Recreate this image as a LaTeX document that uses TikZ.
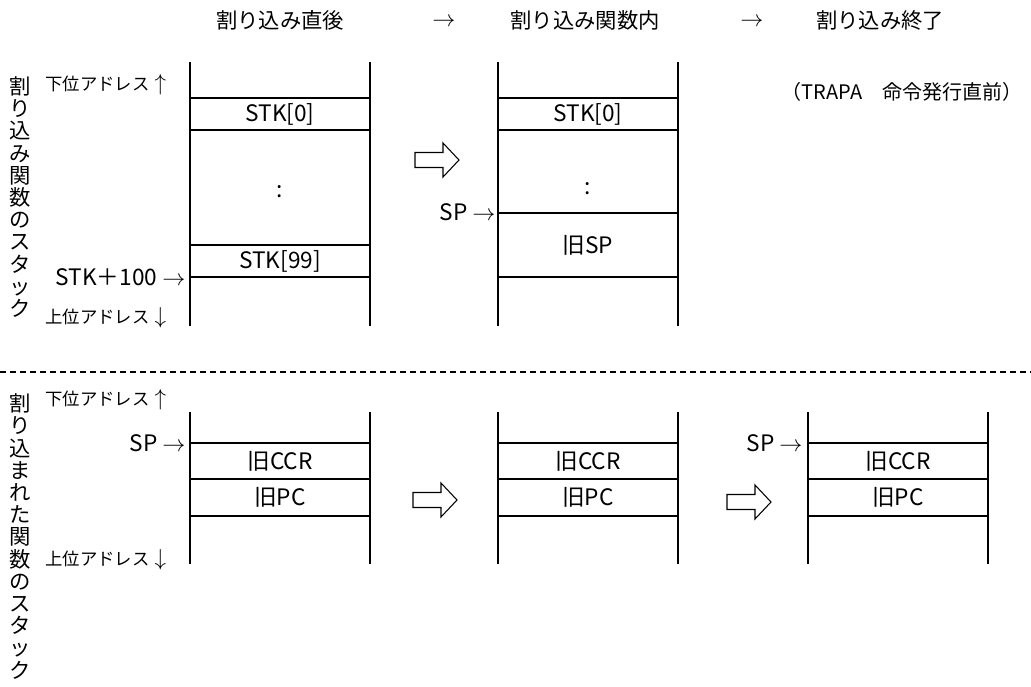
\documentclass[tikz,border=0pt]{standalone}
\usepackage{fontspec}
\setmainfont{Noto Sans CJK JP}
\usetikzlibrary{positioning}

\begin{document}
\begin{tikzpicture}[x=0.75pt, y=-0.75pt, line width=0.8pt,
  hdr/.style={font=\fontsize{16}{18}\selectfont},
  cell/.style={font=\fontsize{17}{19}\selectfont, inner sep=0pt},
  lbl/.style={font=\fontsize{13}{15}\selectfont, inner sep=0pt},
  ptr/.style={font=\fontsize{17}{19}\selectfont, inner sep=0pt},
  vlbl/.style={font=\fontsize{16}{16.65}\selectfont, align=center, inner sep=0pt},
  blockarrow/.pic={\draw (0,-7.5) -- (28,-7.5) -- (28,-17) -- (44,0)
    -- (28,17) -- (28,7.5) -- (0,7.5) -- cycle;}]
  \useasboundingbox (0,0) rectangle (1031,686);
  \newcommand{\bigup}{\hspace{0.3em}{\fontsize{17}{19}\selectfont$\uparrow$}}
  \newcommand{\bigdown}{\hspace{0.3em}{\fontsize{17}{19}\selectfont$\downarrow$}}

  %% Headings
  \node[hdr] (h1) at (280,20) {割り込み直後};
  \node[hdr] (ar1) at (444,22) {$\rightarrow$};
  \node[hdr] (h2) at (585,20) {割り込み関数内};
  \node[hdr] (ar2) at (752,22) {$\rightarrow$};
  \node[hdr] (h3) at (880,20) {割り込み終了};
  \node[hdr, font=\fontsize{15}{17}\selectfont] (h3note) at (902,92)
    {（TRAPA　命令発行直前）};

  %% ── Upper part: stack of the interrupt function
  \node[vlbl] (vt1) at (20,197)
    {割\\り\\込\\み\\関\\数\\の\\ス\\タ\\ッ\\ク};
  \node[lbl, anchor=west] (lo1) at (45,85) {下位アドレス\bigup};
  \node[lbl, anchor=west] (hi1) at (45,318) {上位アドレス\bigdown};
  \node[ptr, anchor=east] (stkend) at (186,277) {STK＋100 $\rightarrow$};
  \node[ptr, anchor=east] (sp1) at (496,212) {SP $\rightarrow$};

  \foreach \x in {190,370,498,678}
    \draw (\x,62) -- (\x,326);
  \foreach \y in {98,130,245,277}
    \draw (190,\y) -- (370,\y);
  \foreach \y in {98,130,213,277}
    \draw (498,\y) -- (678,\y);

  \node[cell] (stka0) at (280,114) {STK[0]};
  \node[cell] (stkadots) at (280,192) {:};
  \node[cell] (stka99) at (280,261) {STK[99]};
  \node[cell] (stkb0) at (588,114) {STK[0]};
  \node[cell] (stkbdots) at (588,189) {:};
  \node[cell] (oldsp) at (588,245) {旧SP};

  \pic at (415,160) {blockarrow};

  %% Separator
  \draw[dash pattern=on 4.5pt off 3pt] (0,372) -- (1031,372);

  %% ── Lower part: stack of the interrupted function
  \node[vlbl] (vt2) at (20,536.5)
    {割\\り\\込\\ま\\れ\\た\\関\\数\\の\\ス\\タ\\ッ\\ク};
  \node[lbl, anchor=west] (lo2) at (45,400) {下位アドレス\bigup};
  \node[lbl, anchor=west] (hi2) at (45,560) {上位アドレス\bigdown};
  \node[ptr, anchor=east] (sp2) at (186,443) {SP $\rightarrow$};
  \node[ptr, anchor=east] (sp3) at (803,443) {SP $\rightarrow$};

  \foreach \x in {190,370,498,678,808,988}
    \draw (\x,412) -- (\x,564);
  \foreach \s in {190,498,808}
    \foreach \y in {443,479,516}
      \draw (\s,\y) -- ++(180,0);

  \foreach \cx/\n in {280/1,588/2,898/3}{
    \node[cell] (ccr\n) at (\cx,461) {旧CCR};
    \node[cell] (pc\n) at (\cx,497) {旧PC};
  }

  \pic at (413,500) {blockarrow};
  \pic at (727,502) {blockarrow};

\end{tikzpicture}
\end{document}
